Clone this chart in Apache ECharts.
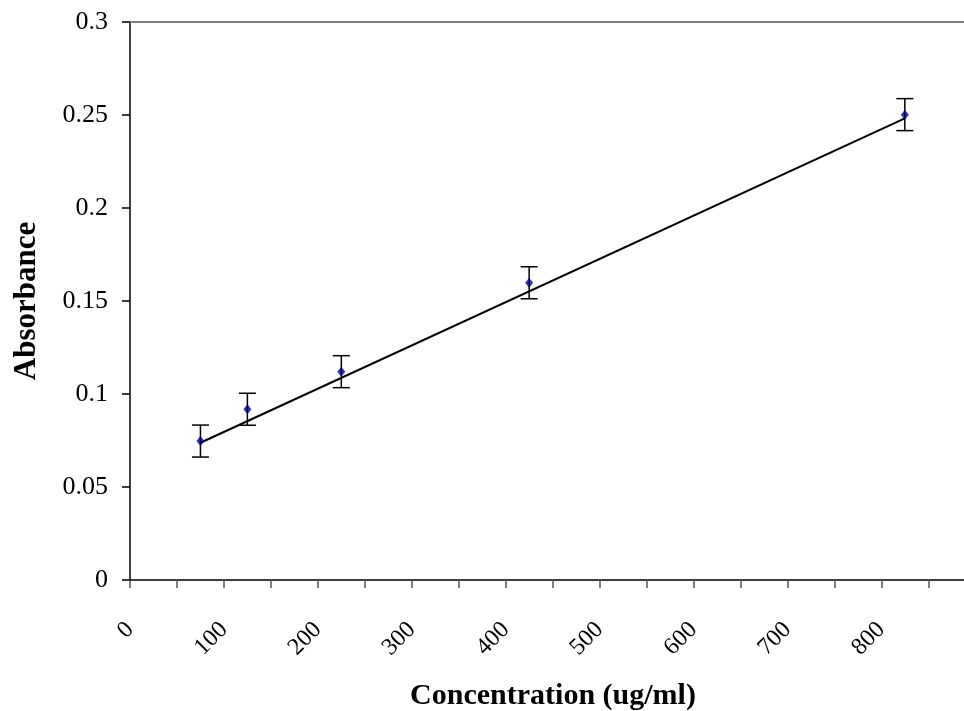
<!DOCTYPE html>
<html>
<head>
<meta charset="utf-8">
<script src="https://cdn.jsdelivr.net/npm/echarts@6/dist/echarts.min.js"></script>
<style>
  html, body { margin: 0; padding: 0; background: #fff; }
  #container { width: 964px; height: 711px; }
</style>
</head>
<body>
<div id="container"></div>
<script>
// values
var concentration = [75, 125, 225, 425, 825];
var absorbance = [0.0747, 0.0918, 0.112, 0.1598, 0.2502];
var errorSize = [0.0086, 0.0086, 0.0086, 0.0086, 0.0086];
var trendX = [75, 825];
var trendY = [0.0738, 0.2482];
var xLabels = ['0', '100', '200', '300', '400', '500', '600', '700', '800'];

var points = concentration.map(function (x, i) { return [x, absorbance[i]]; });
var errData = concentration.map(function (x, i) {
  return [x, absorbance[i] - errorSize[i], absorbance[i] + errorSize[i]];
});
var trend = trendX.map(function (x, i) { return [x, trendY[i]]; });

var font = '"Liberation Serif", "Times New Roman", serif';

var chart = echarts.init(document.getElementById('container'), null, { renderer: 'canvas' });

var option = {
  animation: false,
  grid: { left: 130, right: 0, top: 22, bottom: 131, containLabel: false, outerBoundsMode: 'none' },
  xAxis: [
    {
      type: 'value',
      min: 0,
      max: 888,
      interval: 50,
      name: 'Concentration (ug/ml)',
      nameLocation: 'middle',
      nameGap: 101,
      nameTextStyle: { fontFamily: font, fontSize: 30, fontWeight: 'bold', color: '#000', padding: [0, 0, 0, 12] },
      axisLine: { onZero: false, lineStyle: { color: '#000', width: 1.5 } },
      axisTick: { show: true, length: 8, lineStyle: { color: '#555', width: 1.5 } },
      splitLine: { show: false },
      axisLabel: {
        rotate: 45,
        margin: 46,
        padding: [10, 0, 0, 0],
        fontFamily: font,
        fontSize: 24,
        color: '#000',
        showMaxLabel: false,
        formatter: function (v) {
          var idx = xLabels.indexOf(String(v));
          return idx >= 0 ? xLabels[idx] : '';
        }
      }
    },
    {
      type: 'value',
      position: 'top',
      min: 0,
      max: 888,
      axisLine: { show: true, onZero: false, lineStyle: { color: '#808080', width: 2 } },
      axisTick: { show: false },
      axisLabel: { show: false },
      splitLine: { show: false }
    }
  ],
  yAxis: {
    type: 'value',
    min: 0,
    max: 0.3,
    interval: 0.05,
    name: 'Absorbance',
    nameLocation: 'middle',
    nameGap: 88,
    nameTextStyle: { fontFamily: font, fontSize: 31, fontWeight: 'bold', color: '#000' },
    axisLine: { show: true, lineStyle: { color: '#000', width: 1.5 } },
    axisTick: { show: true, length: 8, lineStyle: { color: '#000', width: 1.5 } },
    splitLine: { show: false },
    axisLabel: { fontFamily: font, fontSize: 26, color: '#000', margin: 22 }
  },
  series: [
    {
      type: 'line',
      data: trend,
      symbol: 'none',
      lineStyle: { color: '#000', width: 2 },
      z: 2
    },
    {
      type: 'custom',
      data: errData,
      renderItem: function (params, api) {
        var x = api.value(0);
        var lo = api.coord([x, api.value(1)]);
        var hi = api.coord([x, api.value(2)]);
        var w = 8.5;
        var style = { stroke: '#000', lineWidth: 1.5, fill: null };
        return {
          type: 'group',
          children: [
            { type: 'line', shape: { x1: lo[0], y1: lo[1], x2: hi[0], y2: hi[1] }, style: style },
            { type: 'line', shape: { x1: lo[0] - w, y1: lo[1], x2: lo[0] + w, y2: lo[1] }, style: style },
            { type: 'line', shape: { x1: hi[0] - w, y1: hi[1], x2: hi[0] + w, y2: hi[1] }, style: style }
          ]
        };
      },
      z: 3
    },
    {
      type: 'scatter',
      data: points,
      symbol: 'diamond',
      symbolSize: [8, 10],
      itemStyle: { color: '#000080' },
      z: 4
    }
  ]
};

chart.setOption(option);
window.addEventListener('resize', chart.resize);
</script>
</body>
</html>
